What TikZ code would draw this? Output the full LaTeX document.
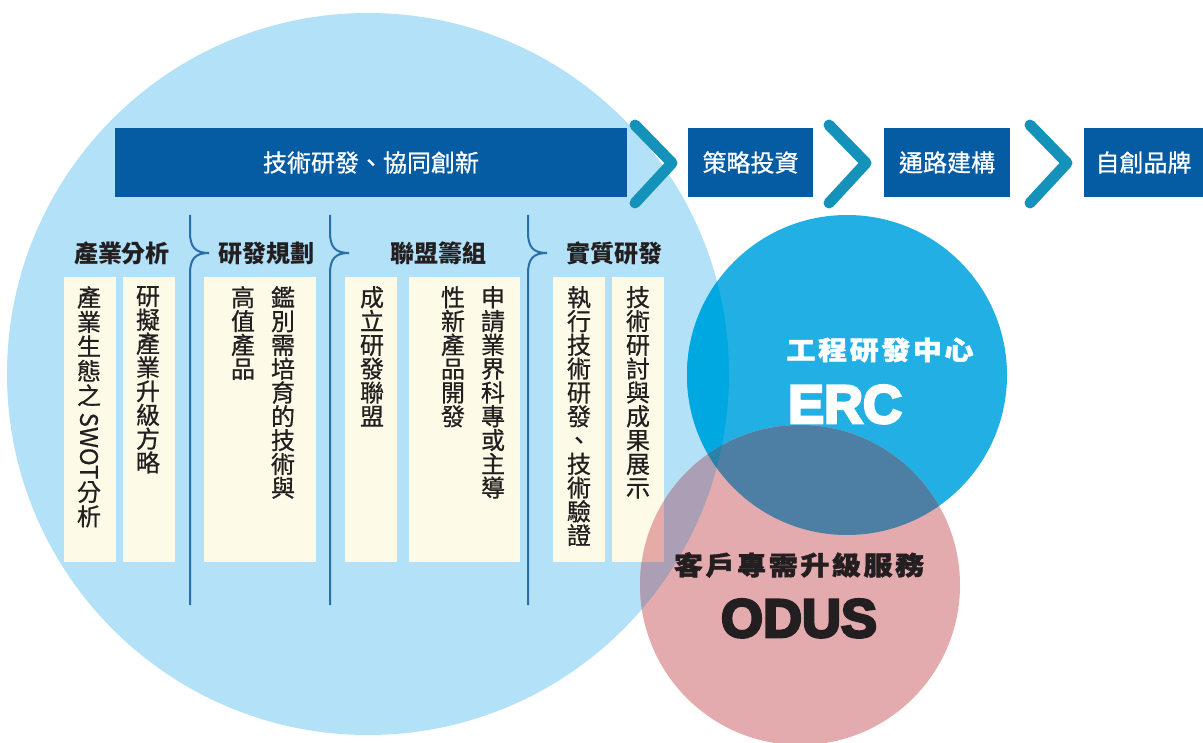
\documentclass[tikz,border=0pt]{standalone}
\usepackage{fontspec}
\setmainfont{Noto Sans CJK TC}
\newfontfamily\cjk{Noto Sans CJK TC}
\newfontfamily\cjkm{Noto Sans CJK TC}[FakeBold=0.7]
\newfontfamily\cjkw{Noto Sans CJK TC}[FakeStretch=1.12, FakeBold=1.5]
\newfontfamily\heavy{Liberation Sans Bold}[FakeBold=5]
\definecolor{bigc}{HTML}{B3E1F7}
\definecolor{ercc}{HTML}{22B0E4}
\definecolor{ercbig}{HTML}{00A8E2}
\definecolor{odc}{HTML}{E4ABAF}
\definecolor{odbig}{HTML}{AA9FB4}
\definecolor{oderc}{HTML}{4D7FA5}
\definecolor{triple}{HTML}{2A82A8}
\definecolor{navy}{HTML}{055CA3}
\definecolor{chevc}{HTML}{1592B9}
\definecolor{cream}{HTML}{FEFAE8}
\definecolor{ink}{HTML}{231F20}
\definecolor{brk}{HTML}{2B6FA8}
\definecolor{creampink}{HTML}{E6ABA6}
\makeatletter
\def\spreadtxt#1#2{\def\sp@w{#1}\sp@loop#2\@nil}
\def\sp@loop#1{\ifx#1\@nil\else\makebox[\sp@w]{#1}\expandafter\sp@loop\fi}
\makeatother
\newcommand\vfontN{\cjkm\fontsize{24pt}{23.8pt}\selectfont\lineskiplimit -30pt\relax}
\newcommand\vfontA{\cjkm\fontsize{24pt}{24.5pt}\selectfont\lineskiplimit -30pt\relax}
\def\cBig{(368,374) circle [radius=361]}
\def\cErc{(847,375) circle [radius=160]}
\def\cOd{(800,585) circle [radius=160]}
\tikzset{
  navybox/.style={fill=navy, text=white, inner sep=0, minimum height=69pt,
    font=\cjkm\fontsize{24pt}{28pt}\selectfont},
  chev/.style={draw=chevc, line width=11pt, line cap=round, line join=round},
  brkline/.style={draw=brk, line width=2pt},
  hdr/.style={text=ink, inner sep=0, font=\cjk\bfseries\fontsize{24pt}{28pt}\selectfont},
  cbox/.style={fill=cream, inner sep=0, minimum height=285pt, anchor=north west},
  vtext/.style={text=ink, inner sep=0, anchor=north, align=center, font=\vfontN},
  vtextA/.style={vtext, font=\vfontA},
  ctitle/.style={inner sep=0, font=\cjkw\bfseries\fontsize{26pt}{30pt}\selectfont},
  cbig/.style={inner sep=0, anchor=base, font=\heavy\fontsize{54pt}{60pt}\selectfont}
}
\begin{document}
\begin{tikzpicture}[x=1pt,y=-1pt]
\useasboundingbox (0,0) rectangle (1203,743);
\fill[white] (0,0) rectangle (1203,743);
% circles
\fill[bigc] \cBig;
\fill[ercc] \cErc;
\begin{scope}\clip \cBig; \fill[ercbig] \cErc; \end{scope}
\fill[odc] \cOd;
\begin{scope}\clip \cOd; \fill[odbig] \cBig; \end{scope}
\begin{scope}\clip \cOd; \fill[oderc] \cErc; \end{scope}
\begin{scope}\clip \cOd; \clip \cErc; \fill[triple] \cBig; \end{scope}
% top bar
\node[navybox, minimum width=512pt] (tb) at (371,162.5) {技術研發、協同創新};
\node[navybox, minimum width=125pt] (b1) at (750.5,162.5) {策略投資};
\node[navybox, minimum width=126pt] (b2) at (947,162.5) {通路建構};
\node[navybox, minimum width=119pt] (b3) at (1143.5,162.5) {自創品牌};
\draw[chev] (635,125) -- (672,163) -- (635,203);
\draw[chev] (829,125) -- (866,163) -- (829,203);
\draw[chev] (1030,125) -- (1067,163) -- (1030,203);
% bracket lines
\foreach \x in {190,330,528}{
  \draw[brkline] (\x,215) -- (\x,232) .. controls (\x,247) and (\x+5,253) .. (\x+19,253)
    .. controls (\x+5,253) and (\x,259) .. (\x,274) -- (\x,605);
}
% headers
\node[hdr] (h1) at (122,253) {產業分析};
\node[hdr] (h2) at (266,253) {研發規劃};
\node[hdr] (h3) at (438,253) {聯盟籌組};
\node[hdr] (h4) at (614,253) {實質研發};
% cream boxes
\node[cbox, minimum width=52pt] (bA) at (64,277) {};
\node[cbox, minimum width=52pt] (bB) at (123,277) {};
\node[cbox, minimum width=112pt] (bC) at (204,277) {};
\node[cbox, minimum width=52pt] (bD) at (345,277) {};
\node[cbox, minimum width=111pt] (bE) at (409,277) {};
\node[cbox, minimum width=52pt] (bF) at (553,277) {};
\node[cbox, minimum width=52pt] (bG) at (612,277) {};
\begin{scope}\clip \cOd; \fill[creampink] (612,277) rectangle (664,562); \end{scope}
% vertical texts
\node[vtextA] (tA1) at (89,286) {產\\業\\生\\態\\之};
\node[text=ink, inner sep=0, rotate=-90, font=\cjkm\fontsize{24pt}{28pt}\selectfont] (tA2) at (89,446) {SWOT};
\node[vtextA] (tA3) at (89,481) {分\\析};
\node[vtext] (tB) at (148,286) {研\\擬\\產\\業\\升\\級\\方\\略};
\node[vtext] (tC1) at (283,286) {鑑\\別\\需\\培\\育\\的\\技\\術\\與};
\node[vtext] (tC2) at (243,286) {高\\值\\產\\品};
\node[vtext] (tD) at (372,286) {成\\立\\研\\發\\聯\\盟};
\node[vtext] (tE1) at (493,286) {申\\請\\業\\界\\科\\專\\或\\主\\導};
\node[vtext] (tE2) at (453,286) {性\\新\\產\\品\\開\\發};
\node[vtext] (tF) at (579,286) {執\\行\\技\\術\\研\\發\\、\\技\\術\\驗\\證};
\node[vtext] (tG) at (638,286) {技\\術\\研\\討\\與\\成\\果\\展\\示};
% circle labels
\node[ctitle, text=white] (ercT) at (880,350) {\spreadtxt{31.6pt}{工程研發中心}};
\node[cbig, text=white] (ercN) at (845,423) {ERC};
\node[ctitle, text=ink] (odT) at (799,565) {\spreadtxt{31.6pt}{客戶專需升級服務}};
\node[cbig, text=ink] (odN) at (799,637) {ODUS};
\end{tikzpicture}
\end{document}
